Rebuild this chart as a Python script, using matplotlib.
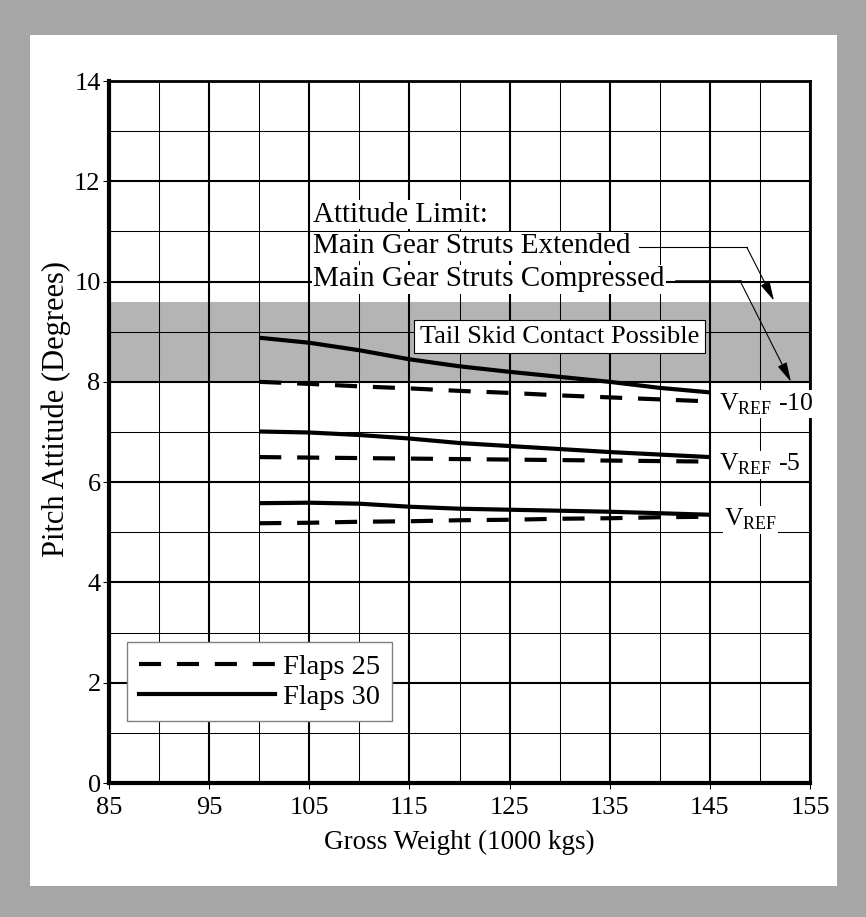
import numpy as np
import matplotlib.pyplot as plt
from matplotlib.patches import Rectangle
from matplotlib.lines import Line2D

plt.rcParams['font.family'] = ['Liberation Serif', 'DejaVu Serif']
plt.rcParams['mathtext.fontset'] = 'custom'
plt.rcParams['mathtext.rm'] = 'Liberation Serif'

# gross weight (1000 kgs)
weight = [100, 105, 110, 115, 120, 125, 130, 135, 140, 145]

# Flaps 30 (solid)
f30_vref10 = [8.88, 8.78, 8.63, 8.45, 8.31, 8.20, 8.10, 8.00, 7.88, 7.79]
f30_vref5 = [7.01, 6.99, 6.94, 6.87, 6.78, 6.72, 6.66, 6.60, 6.55, 6.50]
f30_vref = [5.58, 5.59, 5.57, 5.51, 5.47, 5.45, 5.43, 5.41, 5.38, 5.35]

# Flaps 25 (dashed)
f25_vref10 = [8.00, 7.96, 7.91, 7.87, 7.82, 7.78, 7.73, 7.69, 7.65, 7.61]
f25_vref5 = [6.50, 6.49, 6.48, 6.47, 6.46, 6.45, 6.44, 6.43, 6.42, 6.41]
f25_vref = [5.18, 5.19, 5.21, 5.22, 5.24, 5.25, 5.27, 5.28, 5.30, 5.31]

curve_labels = [r'V$_{\mathregular{REF}}$ -10', r'V$_{\mathregular{REF}}$ -5', r'V$_{\mathregular{REF}}$']

FS = 19
W, H = 866, 917
fig = plt.figure(figsize=(W / 100, H / 100), dpi=100, facecolor='#a6a6a6')

# white panel
fig.patches.append(Rectangle((30 / W, 1 - 886 / H), (837 - 30) / W, (886 - 35) / H,
                             transform=fig.transFigure, facecolor='white', edgecolor='none', zorder=-10))

ax = fig.add_axes([109 / W, 1 - 783 / H, (810 - 109) / W, (783 - 81) / H])
ax.set_xlim(85, 155)
ax.set_ylim(0, 14)

# tail skid band
ax.axhspan(8, 9.6, facecolor='#b4b4b4', edgecolor='none', zorder=0)

# grid
for x in np.arange(85, 156, 5):
    ax.axvline(x, color='black', lw=1.5 if (x - 85) % 10 == 0 else 0.75, zorder=1)
for y in np.arange(0, 15, 1):
    ax.axhline(y, color='black', lw=1.5 if y % 2 == 0 else 0.75, zorder=1)

for side in ['left', 'bottom']:
    ax.spines[side].set_linewidth(3)
for side in ['top', 'right']:
    ax.spines[side].set_linewidth(2)

ax.set_xticks(np.arange(85, 156, 10))
ax.set_yticks(np.arange(0, 15, 2))
ax.tick_params(direction='out', length=4, width=0.75, labelsize=FS)
ax.tick_params(axis='x', pad=6)
ax.tick_params(axis='y', pad=2)

dash = (0, (5.3, 3.8))
for ys in [f30_vref10, f30_vref5, f30_vref]:
    ax.plot(weight, ys, color='black', lw=3, zorder=3, solid_capstyle='butt')
for ys in [f25_vref10, f25_vref5, f25_vref]:
    ax.plot(weight, ys, color='black', lw=3, ls=dash, zorder=3, dash_capstyle='butt')

# curve labels
for lab, ys, dx in zip(curve_labels, [f25_vref10, f25_vref5, f25_vref], [0.9, 0.9, 1.4]):
    ax.text(weight[-1] + dx, ys[-1] - 0.06, lab, fontsize=18.5, va='center', ha='left', zorder=5,
            bbox=dict(facecolor='white', edgecolor='none', pad=1))

ax.text(130.0, 8.9, 'Tail Skid Contact Possible', fontsize=FS, ha='center', va='center', zorder=5,
        bbox=dict(facecolor='white', edgecolor='black', linewidth=0.8, pad=4))

# attitude limit annotations
tb = dict(facecolor='white', edgecolor='none', pad=1)
AFS = 21
ax.text(105.4, 11.33, 'Attitude Limit:', fontsize=AFS, ha='left', va='center', zorder=5, bbox=tb)
ax.text(105.4, 10.70, 'Main Gear Struts Extended', fontsize=AFS, ha='left', va='center', zorder=5, bbox=tb)
ax.text(105.4, 10.05, 'Main Gear Struts Compressed', fontsize=AFS, ha='left', va='center', zorder=5, bbox=tb)

ax.plot([137.9, 148.7], [10.68, 10.68], color='black', lw=0.8, zorder=4)
ax.annotate('', xy=(151.4, 9.62), xytext=(148.7, 10.68), zorder=4,
            arrowprops=dict(arrowstyle='-|>,head_length=1.2,head_width=0.3', color='black',
                            lw=0.8, mutation_scale=10, shrinkA=0, shrinkB=0))
ax.plot([141.6, 148.0], [10.02, 10.02], color='black', lw=1.8, zorder=4)
ax.annotate('', xy=(153.1, 8.0), xytext=(148.0, 10.02), zorder=4,
            arrowprops=dict(arrowstyle='-|>,head_length=1.2,head_width=0.3', color='black',
                            lw=0.8, mutation_scale=10, shrinkA=0, shrinkB=0))

handles = [Line2D([], [], color='black', lw=3, ls=dash), Line2D([], [], color='black', lw=3)]
leg = ax.legend(handles, ['Flaps 25', 'Flaps 30'], loc='lower left', bbox_to_anchor=(0.026, 0.088),
                borderaxespad=0, fontsize=20.5, frameon=True, fancybox=False, framealpha=1,
                edgecolor='#808080', handlelength=4.8, handletextpad=0.28, labelspacing=0.15,
                borderpad=0.4)
leg.get_frame().set_linewidth(1)
leg.set_zorder(6)

ax.set_xlabel('Gross Weight (1000 kgs)', fontsize=19.5, labelpad=8)
ax.set_ylabel('Pitch Attitude (Degrees)', fontsize=22)
ax.yaxis.set_label_coords(-0.054, 0.533)

fig.savefig('out.png', dpi=100, facecolor=fig.get_facecolor())
